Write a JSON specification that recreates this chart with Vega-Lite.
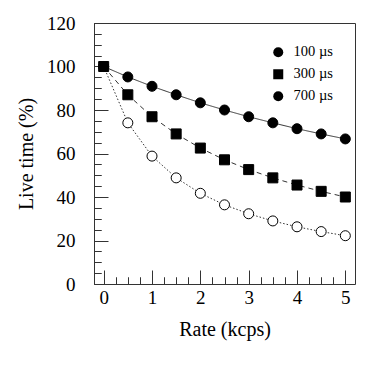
{
  "$schema": "https://vega.github.io/schema/vega-lite/v6.json",
  "width": 261,
  "height": 261,
  "autosize": {"type": "none"},
  "padding": {"left": 94, "top": 23, "right": 23, "bottom": 94},
  "background": "white",
  "config": {
    "font": "Liberation Serif, serif",
    "view": {"stroke": "#333", "strokeWidth": 1},
    "axis": {
      "domain": false,
      "grid": false,
      "tickColor": "#333",
      "tickWidth": 1,
      "labelColor": "black",
      "titleColor": "black",
      "labelFont": "Liberation Serif, serif",
      "titleFont": "Liberation Serif, serif",
      "titleFontWeight": "normal",
      "labelFontSize": 19,
      "titleFontSize": 20,
      "labelFlush": false,
      "labelOverlap": false
    },
    "legend": {
      "labelFont": "Liberation Serif, serif",
      "labelFontSize": 14.5,
      "labelColor": "black"
    }
  },
  "data": {
    "values": [
      {"rate": 0, "live": 100, "series": "100 µs"},
      {"rate": 0.5, "live": 95.2, "series": "100 µs"},
      {"rate": 1, "live": 90.9, "series": "100 µs"},
      {"rate": 1.5, "live": 87.0, "series": "100 µs"},
      {"rate": 2, "live": 83.3, "series": "100 µs"},
      {"rate": 2.5, "live": 80.0, "series": "100 µs"},
      {"rate": 3, "live": 76.9, "series": "100 µs"},
      {"rate": 3.5, "live": 74.1, "series": "100 µs"},
      {"rate": 4, "live": 71.4, "series": "100 µs"},
      {"rate": 4.5, "live": 69.0, "series": "100 µs"},
      {"rate": 5, "live": 66.7, "series": "100 µs"},
      {"rate": 0, "live": 100, "series": "700 µs"},
      {"rate": 0.5, "live": 74.1, "series": "700 µs"},
      {"rate": 1, "live": 58.8, "series": "700 µs"},
      {"rate": 1.5, "live": 48.8, "series": "700 µs"},
      {"rate": 2, "live": 41.7, "series": "700 µs"},
      {"rate": 2.5, "live": 36.4, "series": "700 µs"},
      {"rate": 3, "live": 32.3, "series": "700 µs"},
      {"rate": 3.5, "live": 29.0, "series": "700 µs"},
      {"rate": 4, "live": 26.3, "series": "700 µs"},
      {"rate": 4.5, "live": 24.1, "series": "700 µs"},
      {"rate": 5, "live": 22.2, "series": "700 µs"},
      {"rate": 0, "live": 100, "series": "300 µs"},
      {"rate": 0.5, "live": 87.0, "series": "300 µs"},
      {"rate": 1, "live": 76.9, "series": "300 µs"},
      {"rate": 1.5, "live": 69.0, "series": "300 µs"},
      {"rate": 2, "live": 62.5, "series": "300 µs"},
      {"rate": 2.5, "live": 57.1, "series": "300 µs"},
      {"rate": 3, "live": 52.6, "series": "300 µs"},
      {"rate": 3.5, "live": 48.8, "series": "300 µs"},
      {"rate": 4, "live": 45.5, "series": "300 µs"},
      {"rate": 4.5, "live": 42.6, "series": "300 µs"},
      {"rate": 5, "live": 40.0, "series": "300 µs"}
    ]
  },
  "resolve": {"axis": {"x": "independent", "y": "independent"}, "scale": {"shape": "independent"}},
  "layer": [
    {
      "mark": {"type": "line", "stroke": "#333", "strokeWidth": 1},
      "encoding": {
        "x": {"field": "rate", "type": "quantitative",
          "scale": {"domain": [-0.2, 5.2], "nice": false, "zero": false},
          "axis": {
            "orient": "bottom",
            "values": [0, 0.25, 0.5, 0.75, 1, 1.25, 1.5, 1.75, 2, 2.25, 2.5, 2.75, 3, 3.25, 3.5, 3.75, 4, 4.25, 4.5, 4.75, 5],
            "labelExpr": "datum.value % 1 === 0 ? format(datum.value, 'd') : ''",
            "tickSize": -7,
            "labelPadding": 11,
            "title": "Rate (kcps)",
            "titlePadding": 12
          }},
        "y": {"field": "live", "type": "quantitative",
          "scale": {"domain": [0, 120], "nice": false, "zero": false},
          "axis": {
            "orient": "left",
            "values": [0, 5, 10, 15, 20, 25, 30, 35, 40, 45, 50, 55, 60, 65, 70, 75, 80, 85, 90, 95, 100, 105, 110, 115, 120],
            "labelExpr": "datum.value % 20 === 0 ? format(datum.value, 'd') : ''",
            "tickSize": -7,
            "labelPadding": 26,
            "title": "Live time (%)",
            "titlePadding": 10
          }},
        "strokeDash": {"field": "series", "type": "nominal",
          "scale": {"domain": ["100 µs", "300 µs", "700 µs"], "range": [[1, 0], [5, 4], [1.5, 2]]},
          "legend": null}
      }
    },
    {
      "mark": {"type": "point", "filled": true, "stroke": "black", "strokeWidth": 1, "size": 100, "opacity": 1},
      "encoding": {
        "x": {"field": "rate", "type": "quantitative",
          "scale": {"domain": [-0.2, 5.2], "nice": false, "zero": false},
          "axis": {"orient": "bottom", "values": [0, 1, 2, 3, 4, 5], "labels": false, "tickSize": -14, "title": null}},
        "y": {"field": "live", "type": "quantitative",
          "scale": {"domain": [0, 120], "nice": false, "zero": false},
          "axis": {"orient": "left", "values": [0, 20, 40, 60, 80, 100, 120], "labels": false, "tickSize": -14, "title": null}},
        "shape": {"field": "series", "type": "nominal",
          "scale": {"domain": ["100 µs", "300 µs", "700 µs"], "range": ["circle", "square", "circle"]},
          "legend": null},
        "fill": {"field": "series", "type": "nominal",
          "scale": {"domain": ["100 µs", "300 µs", "700 µs"], "range": ["black", "black", "white"]},
          "legend": null}
      }
    },
    {
      "mark": {"type": "point", "filled": true, "size": 100, "opacity": 0, "color": "black"},
      "encoding": {
        "x": {"field": "rate", "type": "quantitative",
          "scale": {"domain": [-0.2, 5.2], "nice": false, "zero": false},
          "axis": {"orient": "bottom", "values": [0, 0.25, 0.5, 0.75, 1, 1.25, 1.5, 1.75, 2, 2.25, 2.5, 2.75, 3, 3.25, 3.5, 3.75, 4, 4.25, 4.5, 4.75, 5], "labels": false, "tickSize": -7, "title": null}},
        "y": {"field": "live", "type": "quantitative",
          "scale": {"domain": [0, 120], "nice": false, "zero": false},
          "axis": {"orient": "left", "values": [0, 5, 10, 15, 20, 25, 30, 35, 40, 45, 50, 55, 60, 65, 70, 75, 80, 85, 90, 95, 100, 105, 110, 115, 120], "labels": false, "tickSize": -7, "title": null}},
        "shape": {"field": "series", "type": "nominal",
          "scale": {"domain": ["100 µs", "300 µs", "700 µs"], "range": ["circle", "square", "circle"]},
          "legend": {
            "title": null,
            "orient": "top-right",
            "offset": 22,
            "padding": 0,
            "rowPadding": 5,
            "labelOffset": 8
          }}
      }
    }
  ]
}
